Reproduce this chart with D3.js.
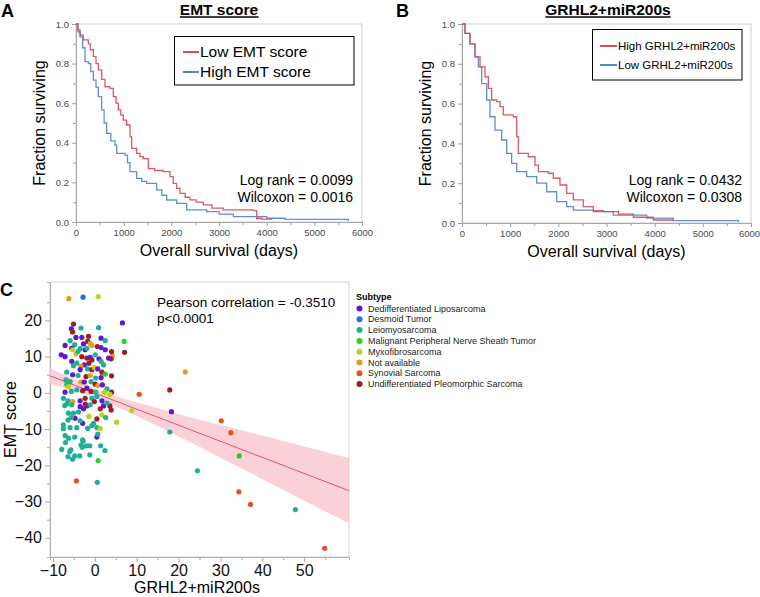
<!DOCTYPE html>
<html><head><meta charset="utf-8">
<script src="https://cdn.jsdelivr.net/npm/d3@7"></script>
<style>body{margin:0;background:#fff}svg{display:block}</style>
</head><body>
<svg id="c" width="760" height="597"></svg>
<script>
// ---------- DATA ----------
const kmXTicks = [0,1000,2000,3000,4000,5000,6000];
const kmYTicks = [0,0.2,0.4,0.6,0.8,1.0];

// Panel A: EMT score
const lowEmtT = [0,40,84,150,259,300,364,420,469,540,608,713,783,840,888,940,993,1063,1133,1168,1273,1340,1412,1517,1650,1832,1972,2041,2110,2182,2290,2391,2520,2671,2850,3090,3720,3790,3900,4105];
const lowEmtS = [1,0.97,0.944,0.92,0.90,0.87,0.835,0.80,0.768,0.72,0.683,0.675,0.633,0.60,0.566,0.54,0.515,0.49,0.43,0.372,0.347,0.33,0.32,0.27,0.26,0.254,0.229,0.195,0.17,0.145,0.125,0.112,0.10,0.086,0.07,0.061,0.057,0.019,0.015,0.01];
const highEmtT = [0,40,84,140,189,259,310,364,420,469,538,590,643,730,818,853,1028,1080,1133,1273,1380,1482,1692,1800,1902,2112,2322,2741,3000,3300,4000,4385,5713];
const highEmtS = [1,0.96,0.935,0.88,0.81,0.80,0.76,0.717,0.68,0.633,0.566,0.50,0.448,0.41,0.389,0.347,0.338,0.30,0.254,0.22,0.205,0.195,0.162,0.135,0.111,0.094,0.061,0.052,0.04,0.027,0.019,0.013,0.006];

// Panel B: GRHL2+miR200s
const highGrhlT = [0,62,166,270,374,477,547,616,720,789,858,1065,1135,1169,1376,1515,1584,1792,1896,2034,2173,2311,2518,2726,2933,3250,3557,3972,4387];
const highGrhlS = [1,0.953,0.90,0.835,0.785,0.735,0.677,0.618,0.61,0.585,0.543,0.534,0.434,0.35,0.333,0.291,0.258,0.25,0.225,0.191,0.149,0.116,0.082,0.062,0.057,0.045,0.029,0.015,0.01];
const lowGrhlT = [0,62,166,270,339,408,512,581,685,824,928,1031,1135,1343,1551,1758,1966,2173,2311,2726,3141,3834,4387,5737];
const lowGrhlS = [1,0.953,0.90,0.835,0.785,0.70,0.618,0.534,0.467,0.417,0.35,0.30,0.258,0.233,0.20,0.157,0.107,0.082,0.065,0.057,0.04,0.024,0.012,0.004];

// Panel C
const subtypes = ["Dedifferentiated Liposarcoma","Desmoid Tumor","Leiomyosarcoma","Malignant Peripheral Nerve Sheath Tumor","Myxofibrosarcoma","Not available","Synovial Sarcoma","Undifferentiated Pleomorphic Sarcoma"];
const subtypeColors = ["#6414d2","#1f6fe6","#1fae98","#28d028","#b8d21e","#e89a1c","#ea5020","#9a1e24"];
const cXTicks = [-10,0,10,20,30,40,50];
const cYTicks = [-40,-30,-20,-10,0,10,20];
const fitX = [-10.7, 60.7];
const fitY = [4.7, -27.0];
const bandX = [-10.7,-5,0,5,10,20,30,40,50,60.7];
const bandUpper = [6.8,3.8,1.15,-0.9,-2.6,-5.8,-8.9,-11.8,-14.8,-18.0];
const bandLower = [2.6,0.6,-1.25,-3.7,-6.4,-12.0,-17.9,-23.8,-29.8,-36.0];
// [GRHL2+miR200s, EMT score, subtype index]
const points = [
[7.0,14.2,3],[7.1,11.2,7],[21.6,5.8,5],[10.6,-0.4,6],[17.9,0.8,7],[8.8,-4.9,4],[18.3,-5.2,0],[17.9,-10.8,2],[30.2,-7.7,6],[32.5,-11.0,6],[34.5,-17.4,3],[24.5,-21.5,2],[34.4,-27.3,6],[37.2,-30.8,6],[47.9,-32.2,2],[54.9,-42.9,6],
[-6.2,26.0,5],[-2.8,26.4,1],[0.8,26.6,4],[6.6,19.3,0],
[-4.4,-24.3,6],[0.6,-24.7,2],[0.8,-18.7,3],
[-7.9,-15.6,2],[-7.0,-13.7,2],[-6.0,-16.2,2],[-5.7,-15.7,2],[-5.3,-18.3,2],[-4.8,-17.4,2],[-3.6,-17.4,2],[-3.3,-14.4,2],[-3.0,-15.0,2],[-2.8,-13.3,2],[-2.0,-14.6,2],[-1.2,-14.6,2],[-1.2,-17.1,2],[1.4,-14.6,2],[2.4,-15.9,2],[-6.4,-17.6,2],
[-6.3,-5.6,2],[-5.1,-5.6,2],[-3.9,-5.3,2],[-4.7,-7.0,0],[-6.4,-7.5,2],[-5.6,-6.8,2],[-2.9,-8.4,0],[-3.5,-7.7,2],[-1.4,-6.5,4],[0.5,-7.2,7],[1.7,-6.1,4],[2.6,-6.8,2],[5.2,-8.1,4],[-7.5,-8.8,2],[-7.5,-9.9,2],[-5.9,-9.6,2],[-4.3,-9.6,2],[-1.7,-9.8,2],[-0.7,-9.0,2],[-0.3,-8.4,2],[0.5,-9.6,2],[1.3,-9.8,4],[-7.1,-11.8,2],[-6.3,-12.5,2],[-4.8,-12.2,2],[0.5,-12.2,0],[0.7,-11.4,2],[-2.9,-13.0,2],
[-3.5,-3.8,0],[-2.7,-4.4,0],[-1.9,-3.6,0],[1.3,-4.4,7],[2.1,-3.6,0],[3.6,-3.6,7],[3.9,-4.7,7],[-7.2,-3.5,2],
[-5.1,19.0,7],[-5.6,17.7,0],[-3.3,17.9,2],[0.9,18.0,2],[-5.3,16.8,7],[-4.5,15.3,0],[-3.1,15.3,0],[-1.5,15.6,7],[1.5,15.1,0],[2.5,14.4,2],[-5.9,14.4,2],[-7.1,13.1,0],[-4.8,13.3,2],[-1.7,14.2,7],[-1.1,13.7,5],[-2.7,13.5,0],[-0.7,13.1,5],[0.6,12.8,7],[-3.5,12.2,2],[-5.5,12.3,0],[-5.3,11.9,4],[-2.3,11.9,0],[-1.9,12.3,2],[1.5,12.5,0],[2.5,11.9,0],[-8.0,10.5,0],[-7.1,10.0,0],[-4.5,10.7,4],[-4.0,11.4,2],[-3.1,10.0,7],[-1.9,9.6,7],[-1.1,9.8,0],[-0.7,9.1,7],[0.1,10.5,2],[4.2,10.3,5],[3.9,9.4,7],[3.3,9.6,0],[1.0,9.4,0],[4.0,11.4,7],
[-5.5,8.7,0],[-4.3,8.2,2],[-5.1,7.5,2],[-1.4,8.2,7],[-2.5,7.7,0],[1.5,8.7,2],[2.1,7.7,2],[-3.3,7.3,5],[-3.5,6.4,0],[-1.7,6.6,2],[-0.7,6.4,7],[-0.1,7.0,4],[0.7,6.6,0],[1.7,5.7,7],[2.5,5.2,3],[4.0,4.7,7],[-6.7,5.7,2],[-5.3,5.0,0],[-4.0,4.8,2],[-2.1,4.5,7],[-1.1,4.8,5],[0.2,4.1,2],[1.5,4.2,0],
[-6.9,3.6,2],[-6.7,2.4,3],[-6.3,1.7,4],[-5.9,3.1,2],[-3.3,3.0,5],[-2.5,3.0,0],[-0.9,3.1,2],[0.1,2.4,7],[0.7,2.0,5],[1.8,2.2,0],[2.9,1.1,2],[-7.1,0.2,0],[-5.6,0.4,2],[-4.3,0.8,2],[-2.9,0.6,7],[-1.9,1.3,0],[-0.9,0.4,7],[0.2,0.2,2],[2.3,0.2,4],[4.0,0.2,7],
[-7.5,-1.5,2],[-6.4,-2.2,2],[-5.3,-2.4,5],[-3.5,-2.2,0],[-2.3,-1.5,7],[-0.7,-1.5,2],[0.5,-1.0,2],[1.7,-2.2,0],[3.6,-0.4,4],[-6.7,-3.1,2],[-5.5,-3.3,2],[-2.3,-3.1,7],[-1.1,-3.3,2],[-0.1,-2.4,7],[2.9,-2.8,2]
];

// ---------- DRAW ----------
const FONT = '"Liberation Sans", Arial, sans-serif';
const svg = d3.select('#c').style('font-family', FONT);
const RED = '#dd4a55', BLUE = '#4f84d6';

function panelLetter(t, x, y) {
  svg.append('text').attr('x', x).attr('y', y).text(t)
    .attr('font-size', 18).attr('font-weight', 'bold').attr('fill', '#000');
}
function underlinedTitle(t, cx, y) {
  const tx = svg.append('text').attr('x', cx).attr('y', y).attr('text-anchor', 'middle')
    .attr('font-size', 15.5).attr('font-weight', 'bold').text(t);
  const bb = tx.node().getBBox();
  svg.append('line').attr('x1', bb.x).attr('x2', bb.x + bb.width)
    .attr('y1', y + 2.5).attr('y2', y + 2.5).attr('stroke', '#000').attr('stroke-width', 1.3);
}

function km(cfg) {
  const g = svg.append('g');
  const x = d3.scaleLinear().domain([0, 6000]).range([cfg.x0, cfg.x1]);
  const y = d3.scaleLinear().domain([0, 1]).range([cfg.y1, cfg.y0]);
  g.append('rect').attr('x', cfg.x0).attr('y', cfg.y0)
    .attr('width', cfg.x1 - cfg.x0).attr('height', cfg.y1 - cfg.y0)
    .attr('fill', 'none').attr('stroke', '#cfcfcf');
  const style = (sel) => {
    sel.select('.domain').attr('stroke', '#a8a8a8');
    sel.selectAll('.tick line').attr('stroke', '#a0a0a0');
    sel.selectAll('.tick text').attr('fill', '#4a4a4a').attr('font-size', 9.5).attr('font-family', FONT);
  };
  const minorX = d3.range(500, 6000, 1000);
  const minorY = [0.1, 0.3, 0.5, 0.7, 0.9];
  g.append('g').attr('transform', `translate(0,${cfg.y1})`)
    .call(d3.axisBottom(x).tickValues(minorX).tickSize(3).tickFormat('')).call(style);
  g.append('g').attr('transform', `translate(${cfg.x0},0)`)
    .call(d3.axisLeft(y).tickValues(minorY).tickSize(3).tickFormat('')).call(style);
  const xa = g.append('g').attr('transform', `translate(0,${cfg.y1})`)
    .call(d3.axisBottom(x).tickValues(kmXTicks).tickSize(4).tickFormat(d3.format('d')).tickSizeOuter(0)).call(style);
  if (cfg.lastShift) {
    xa.selectAll('.tick text').filter(d => d === 6000).attr('dx', cfg.lastShift);
  }
  g.append('g').attr('transform', `translate(${cfg.x0},0)`)
    .call(d3.axisLeft(y).tickValues(kmYTicks).tickSize(4).tickFormat(d3.format('.1f')).tickSizeOuter(0)).call(style);

  const line = d3.line().x(d => x(d[0])).y(d => y(d[1])).curve(d3.curveStepAfter);
  cfg.curves.forEach(c => {
    const data = c.t.map((t, i) => [t, c.s[i]]);
    g.append('path').datum(data).attr('d', line).attr('fill', 'none')
      .attr('stroke', c.color).attr('stroke-width', 1.3).attr('stroke-opacity', 0.92);
  });

  // axis labels
  g.append('text').attr('transform', `translate(${cfg.x0 - 31},${(cfg.y0 + cfg.y1) / 2}) rotate(-90)`)
    .attr('text-anchor', 'middle').attr('font-size', 16).text('Fraction surviving');
  g.append('text').attr('x', (cfg.x0 + cfg.x1) / 2).attr('y', cfg.y1 + 34)
    .attr('text-anchor', 'middle').attr('font-size', 16).text('Overall survival (days)');

  // legend
  const L = cfg.legend;
  g.append('rect').attr('x', L.x).attr('y', L.y).attr('width', L.w).attr('height', L.h)
    .attr('fill', '#fff').attr('stroke', '#000').attr('stroke-width', 1);
  L.items.forEach((it, i) => {
    const yy = L.y + L.first + i * L.step;
    g.append('line').attr('x1', L.lx).attr('x2', L.lx + L.ll).attr('y1', yy).attr('y2', yy)
      .attr('stroke', it.color).attr('stroke-width', 2);
    g.append('text').attr('x', L.lx + L.ll + 1).attr('y', yy).attr('dy', '0.35em')
      .attr('font-size', L.fs).text(it.label);
  });
  // stats
  cfg.stats.forEach((s, i) => {
    g.append('text').attr('x', cfg.statX).attr('y', cfg.statY + i * 17).attr('text-anchor', 'end')
      .attr('font-size', 14).text(s);
  });
}

// Panel A
panelLetter('A', 1, 16.5);
underlinedTitle('EMT score', 219, 14.5);
km({
  x0: 76, x1: 362, y0: 24, y1: 222,
  curves: [
    {t: highEmtT, s: highEmtS, color: BLUE},
    {t: lowEmtT, s: lowEmtS, color: RED}
  ],
  legend: {x: 174.5, y: 36.5, w: 179.5, h: 48.5, first: 15.5, step: 20, lx: 183, ll: 16, fs: 15.5,
    items: [{label: 'Low EMT score', color: RED}, {label: 'High EMT score', color: BLUE}]},
  stats: ['Log rank = 0.0099', 'Wilcoxon = 0.0016'], statX: 353, statY: 185
});

// Panel B
panelLetter('B', 396, 16.5);
underlinedTitle('GRHL2+miR200s', 608, 14.5);
km({
  x0: 462, x1: 751, y0: 24, y1: 223,
  curves: [
    {t: lowGrhlT, s: lowGrhlS, color: BLUE},
    {t: highGrhlT, s: highGrhlS, color: RED}
  ],
  lastShift: -2,
  legend: {x: 592.5, y: 29.5, w: 149.5, h: 50.5, first: 16.5, step: 19, lx: 600, ll: 17, fs: 11.5,
    items: [{label: 'High GRHL2+miR200s', color: RED}, {label: 'Low GRHL2+miR200s', color: BLUE}]},
  stats: ['Log rank = 0.0432', 'Wilcoxon = 0.0308'], statX: 742, statY: 185
});

// Panel C
panelLetter('C', 0, 296);
(function () {
  const x0 = 50, x1 = 349, y0 = 282, y1 = 557;
  const x = d3.scaleLinear().domain([-10.7, 60.7]).range([x0, x1]);
  const y = d3.scaleLinear().domain([-45.3, 30.6]).range([y1, y0]);
  const g = svg.append('g');
  g.append('rect').attr('x', x0).attr('y', y0).attr('width', x1 - x0).attr('height', y1 - y0)
    .attr('fill', 'none').attr('stroke', '#d4d4d4');
  const style = (sel) => {
    sel.select('.domain').attr('stroke', '#b0b0b0');
    sel.selectAll('.tick line').attr('stroke', '#a8a8a8');
    sel.selectAll('.tick text').attr('fill', '#111').attr('font-size', 16).attr('font-family', FONT);
  };
  const minorXc = [-5, 5, 15, 25, 35, 45, 55];
  const minorYc = [-35, -25, -15, -5, 5, 15, 25];
  g.append('g').attr('transform', `translate(0,${y1})`)
    .call(d3.axisBottom(x).tickValues(minorXc).tickSize(3).tickFormat('')).call(style);
  g.append('g').attr('transform', `translate(${x0},0)`)
    .call(d3.axisLeft(y).tickValues(minorYc).tickSize(3).tickFormat('')).call(style);
  g.append('g').attr('transform', `translate(0,${y1})`)
    .call(d3.axisBottom(x).tickValues(cXTicks).tickSize(5).tickPadding(3).tickSizeOuter(0)).call(style);
  g.append('g').attr('transform', `translate(${x0},0)`)
    .call(d3.axisLeft(y).tickValues(cYTicks).tickSize(5).tickPadding(3).tickSizeOuter(0)).call(style);

  const clip = svg.append('clipPath').attr('id', 'clipC');
  clip.append('rect').attr('x', x0).attr('y', y0).attr('width', x1 - x0).attr('height', y1 - y0);
  const pg = g.append('g').attr('clip-path', 'url(#clipC)');
  const band = bandX.map((v, i) => ({x: v, lo: bandLower[i], hi: bandUpper[i]}));
  pg.append('path').datum(band)
    .attr('d', d3.area().x(d => x(d.x)).y0(d => y(d.lo)).y1(d => y(d.hi)).curve(d3.curveMonotoneX))
    .attr('fill', '#f9c6d0').attr('fill-opacity', 0.8);
  pg.append('line').attr('x1', x(fitX[0])).attr('y1', y(fitY[0])).attr('x2', x(fitX[1])).attr('y2', y(fitY[1]))
    .attr('stroke', '#e0546a').attr('stroke-width', 1);
  pg.selectAll('circle').data(points).enter().append('circle')
    .attr('cx', d => x(d[0])).attr('cy', d => y(d[1])).attr('r', 2.6)
    .attr('fill', d => subtypeColors[d[2]]);

  g.append('text').attr('x', 157).attr('y', 307).attr('font-size', 13.5).text('Pearson correlation = -0.3510');
  g.append('text').attr('x', 157).attr('y', 323).attr('font-size', 13.5).text('p<0.0001');

  g.append('text').attr('transform', `translate(16,${(y0 + y1) / 2}) rotate(-90)`)
    .attr('text-anchor', 'middle').attr('font-size', 16).text('EMT score');
  g.append('text').attr('x', 197).attr('y', 593).attr('text-anchor', 'middle')
    .attr('font-size', 16).text('GRHL2+miR200s');

  // legend
  g.append('text').attr('x', 356).attr('y', 300).attr('font-size', 9).attr('font-weight', 'bold').text('Subtype');
  subtypes.forEach((s, i) => {
    const yy = 308.5 + i * 10.8;
    g.append('circle').attr('cx', 359.5).attr('cy', yy).attr('r', 3).attr('fill', subtypeColors[i]);
    g.append('text').attr('x', 368).attr('y', yy).attr('dy', '0.35em').attr('font-size', 9).attr('fill', '#222').text(s);
  });
})();
</script>
</body></html>
